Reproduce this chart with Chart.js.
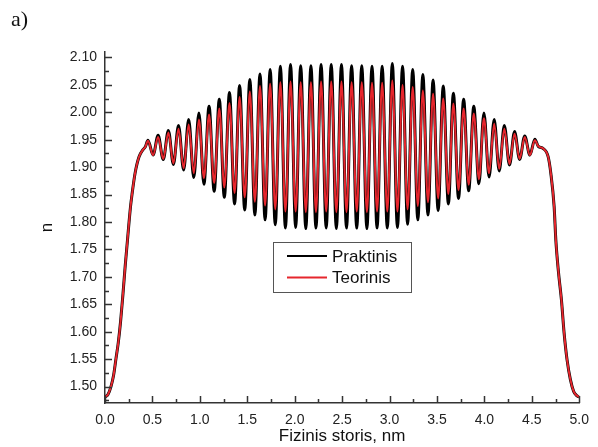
<!DOCTYPE html>
<html>
<head>
<meta charset="utf-8">
<script src="https://cdn.jsdelivr.net/npm/chart.js@4.4.0/dist/chart.umd.min.js"></script>
<style>
	html, body { margin: 0; padding: 0; background: #fff; }
	#wrap { width: 598px; height: 447px; position: relative; }
</style>
</head>
<body>
<div id="wrap"><canvas id="nChart"></canvas></div>
<script>
// tick labels
const xTicks = [0, 0.5, 1, 1.5, 2, 2.5, 3, 3.5, 4, 4.5, 5];
const yTicks = [1.5, 1.55, 1.6, 1.65, 1.7, 1.75, 1.8, 1.85, 1.9, 1.95, 2.0, 2.05, 2.1];

// rising edge (shared by both curves)
const riseX = [0, 0.03, 0.063, 0.09, 0.115, 0.14, 0.165, 0.19, 0.213, 0.237, 0.269, 0.286, 0.317, 0.359, 0.401, 0.425];
const riseN = [1.481, 1.485, 1.500, 1.520, 1.550, 1.580, 1.620, 1.670, 1.720, 1.767, 1.828, 1.852, 1.889, 1.919, 1.932, 1.937];

// oscillation maxima / minima positions
const peakX = [0.453, 0.560, 0.668, 0.775, 0.882, 0.990, 1.097, 1.205, 1.312, 1.419,
	1.527, 1.634, 1.741, 1.849, 1.956, 2.063, 2.171, 2.278, 2.385, 2.493,
	2.600, 2.707, 2.815, 2.922, 3.029, 3.137, 3.244, 3.351, 3.459, 3.566,
	3.673, 3.781, 3.888, 3.995, 4.103, 4.210, 4.318, 4.425, 4.532];
const troughX = [0.507, 0.614, 0.721, 0.829, 0.936, 1.043, 1.151, 1.258, 1.366, 1.473,
	1.580, 1.688, 1.795, 1.902, 2.010, 2.117, 2.224, 2.332, 2.439, 2.546,
	2.654, 2.761, 2.868, 2.976, 3.083, 3.190, 3.298, 3.405, 3.512, 3.620,
	3.727, 3.834, 3.942, 4.049, 4.156, 4.264, 4.371, 4.479];

// Praktinis (measured)
const peakPrak = [1.949, 1.958, 1.967, 1.976, 1.987, 1.999, 2.011, 2.024, 2.036, 2.049,
	2.060, 2.070, 2.078, 2.084, 2.087, 2.085, 2.085, 2.087, 2.087, 2.087,
	2.085, 2.085, 2.084, 2.084, 2.089, 2.084, 2.078, 2.069, 2.059, 2.048,
	2.035, 2.024, 2.011, 1.999, 1.987, 1.976, 1.965, 1.957, 1.951];
const troughPrak = [1.922, 1.914, 1.905, 1.895, 1.881, 1.869, 1.856, 1.845, 1.833, 1.822,
	1.813, 1.804, 1.795, 1.789, 1.790, 1.788, 1.789, 1.789, 1.788, 1.789,
	1.789, 1.788, 1.789, 1.789, 1.790, 1.796, 1.804, 1.813, 1.821, 1.833,
	1.843, 1.857, 1.870, 1.882, 1.893, 1.904, 1.914, 1.922];

// Teorinis (theoretical)
const peakTeor = [1.948, 1.955, 1.963, 1.970, 1.978, 1.987, 1.996, 2.007, 2.017, 2.028,
	2.038, 2.048, 2.052, 2.055, 2.056, 2.055, 2.055, 2.056, 2.056, 2.056,
	2.055, 2.055, 2.054, 2.054, 2.058, 2.050, 2.046, 2.040, 2.034, 2.025,
	2.016, 2.007, 1.998, 1.989, 1.979, 1.970, 1.961, 1.955, 1.949];
const troughTeor = [1.922, 1.915, 1.907, 1.898, 1.889, 1.880, 1.871, 1.863, 1.853, 1.845,
	1.837, 1.830, 1.823, 1.819, 1.819, 1.818, 1.818, 1.819, 1.818, 1.818,
	1.819, 1.818, 1.819, 1.819, 1.819, 1.823, 1.829, 1.836, 1.843, 1.851,
	1.858, 1.868, 1.878, 1.889, 1.897, 1.906, 1.915, 1.922];

// falling edge (shared)
const fallX = [4.568, 4.620, 4.672, 4.700, 4.735, 4.753, 4.780, 4.812, 4.840, 4.871, 4.906, 4.941, 4.970, 5.0];
const fallN = [1.938, 1.934, 1.919, 1.889, 1.828, 1.767, 1.710, 1.658, 1.598, 1.549, 1.513, 1.491, 1.484, 1.481];

const axisColor = '#333';
const sans = '"Liberation Sans", Arial, sans-serif';

function buildCurve(peaks, troughs) {
	const pts = riseX.map((x, i) => ({ x: x, y: riseN[i] }));
	peakX.forEach((x, i) => {
		pts.push({ x: x, y: peaks[i] });
		if (i < troughX.length) {
			pts.push({ x: troughX[i], y: troughs[i] });
		}
	});
	fallX.forEach((x, i) => pts.push({ x: x, y: fallN[i] }));
	return pts;
}

// inward tick marks like the original plot
const innerTicks = {
	id: 'innerTicks',
	afterDraw(chart) {
		const { ctx, scales: { x, y } } = chart;
		ctx.save();
		ctx.strokeStyle = axisColor;
		ctx.lineWidth = 1.5;
		ctx.beginPath();
		xTicks.forEach((v, i) => {
			const px = Math.round(x.getPixelForValue(v)) + 0.5;
			ctx.moveTo(px, x.top);
			ctx.lineTo(px, x.top - 7);
			if (i < xTicks.length - 1) {
				const pm = Math.round(x.getPixelForValue((v + xTicks[i + 1]) / 2)) + 0.5;
				ctx.moveTo(pm, x.top);
				ctx.lineTo(pm, x.top - 4);
			}
		});
		yTicks.forEach((v) => {
			const py = Math.round(y.getPixelForValue(v)) + 0.5;
			ctx.moveTo(y.right, py);
			ctx.lineTo(y.right + 7, py);
			const pm = Math.round(y.getPixelForValue(v - 0.025)) + 0.5;
			ctx.moveTo(y.right, pm);
			ctx.lineTo(y.right + 4, pm);
		});
		ctx.stroke();
		ctx.restore();
	}
};

// boxed legend inside the plot + panel letter
const boxLegend = {
	id: 'boxLegend',
	afterDraw(chart) {
		const ctx = chart.ctx;
		ctx.save();
		ctx.fillStyle = '#fff';
		ctx.fillRect(273, 242, 139, 50);
		ctx.strokeStyle = '#555';
		ctx.lineWidth = 1;
		ctx.strokeRect(273.5, 242.5, 138, 50);
		chart.data.datasets.forEach((ds, i) => {
			const ly = 256 + i * 21.5;
			ctx.strokeStyle = ds.borderColor;
			ctx.lineWidth = 2;
			ctx.beginPath();
			ctx.moveTo(287, ly);
			ctx.lineTo(327, ly);
			ctx.stroke();
			ctx.fillStyle = '#111';
			ctx.font = '17px ' + sans;
			ctx.textBaseline = 'middle';
			ctx.fillText(ds.label, 332, ly + 1);
		});
		ctx.font = '22px "Liberation Serif", "Times New Roman", serif';
		ctx.textBaseline = 'alphabetic';
		ctx.fillStyle = '#111';
		ctx.fillText('a)', 11, 26);
		ctx.restore();
	}
};

const ctx = document.getElementById('nChart').getContext('2d');
const chart = new Chart(ctx, {
	type: 'line',
	data: {
		datasets: [
			{
				label: 'Praktinis',
				data: buildCurve(peakPrak, troughPrak),
				borderColor: '#000',
				borderWidth: 3,
				pointRadius: 0,
				cubicInterpolationMode: 'monotone',
				order: 2,
			},
			{
				label: 'Teorinis',
				data: buildCurve(peakTeor, troughTeor),
				borderColor: '#e6262d',
				borderWidth: 2,
				pointRadius: 0,
				cubicInterpolationMode: 'monotone',
				order: 1,
			},
		],
	},
	options: {
		responsive: true,
		maintainAspectRatio: false,
		animation: false,
		devicePixelRatio: 1,
		layout: {
			padding: { top: 52, right: 15, bottom: 0, left: 0 },
		},
		plugins: {
			legend: { display: false },
			tooltip: { enabled: false },
		},
		scales: {
			x: {
				type: 'linear',
				min: 0,
				max: 5,
				afterBuildTicks: (s) => { s.ticks = xTicks.map(v => ({ value: v })); },
				afterFit: (s) => { s.height = 44; },
				grid: { display: false, drawTicks: false },
				border: { display: true, color: axisColor, width: 1.5 },
				ticks: {
					autoSkip: false,
					maxRotation: 0,
					padding: 9,
					color: '#222',
					font: { family: sans, size: 14 },
					callback: (v) => Number(v).toFixed(1),
				},
				title: {
					display: true,
					text: 'Fizinis storis, nm',
					color: '#111',
					font: { family: sans, size: 17 },
					padding: { top: 0, bottom: 0 },
				},
			},
			y: {
				min: 1.47,
				max: 2.11,
				afterBuildTicks: (s) => { s.ticks = yTicks.map(v => ({ value: v })); },
				afterFit: (s) => { s.width = 105; },
				grid: { display: false, drawTicks: false },
				border: { display: true, color: axisColor, width: 1.5 },
				ticks: {
					padding: 8,
					color: '#222',
					font: { family: sans, size: 14 },
					callback: (v) => Number(v).toFixed(2),
				},
				title: {
					display: true,
					text: 'n',
					color: '#111',
					font: { family: sans, size: 17 },
					padding: { top: 37, bottom: 0 },
				},
			},
		},
	},
	plugins: [innerTicks, boxLegend],
});
</script>
</body>
</html>
